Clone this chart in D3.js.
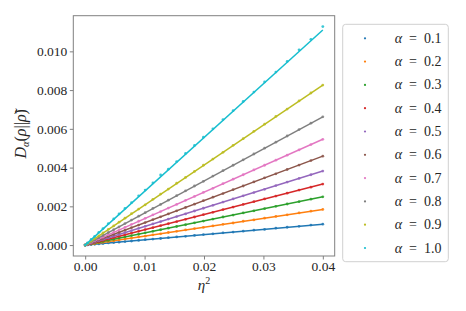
<!DOCTYPE html>
<html>
<head>
<meta charset="utf-8">
<script src="https://cdn.jsdelivr.net/npm/d3@7"></script>
<style>
  body { margin: 0; background: #fff; }
</style>
</head>
<body>
<svg id="chart" width="466" height="311"></svg>
<script>
// eta^2 sample positions
const eta2 = [0.0000, 0.0004, 0.0010, 0.0016, 0.0023, 0.0030, 0.0039, 0.0048, 0.0057, 0.0067,
              0.0078, 0.0090, 0.0101, 0.0114, 0.0127, 0.0140, 0.0154, 0.0169, 0.0184, 0.0199,
              0.0215, 0.0232, 0.0249, 0.0266, 0.0284, 0.0302, 0.0321, 0.0340, 0.0360, 0.0380, 0.0400];

const alphas = ["0.1", "0.2", "0.3", "0.4", "0.5", "0.6", "0.7", "0.8", "0.9", "1.0"];

// measured divergence, one array per alpha
const d01 = [0, 0.00001, 0.00003, 0.00004, 0.00006, 0.00008, 0.00011, 0.00013, 0.00015, 0.00018, 0.00021, 0.00024, 0.00028, 0.00031, 0.00034, 0.00038, 0.00042, 0.00045, 0.0005, 0.00054, 0.00058, 0.00063, 0.00067, 0.00072, 0.00077, 0.00081, 0.00087, 0.00092, 0.00097, 0.00103, 0.00108];
const d02 = [0, 0.00002, 0.00005, 0.00007, 0.00011, 0.00014, 0.00018, 0.00022, 0.00026, 0.00031, 0.00036, 0.00042, 0.00046, 0.00053, 0.00058, 0.00065, 0.00071, 0.00078, 0.00085, 0.00091, 0.00099, 0.00107, 0.00114, 0.00123, 0.0013, 0.00139, 0.00148, 0.00156, 0.00166, 0.00175, 0.00184];
const d03 = [0, 0.00002, 0.00006, 0.0001, 0.00014, 0.00019, 0.00024, 0.0003, 0.00036, 0.00042, 0.00049, 0.00056, 0.00063, 0.00071, 0.00079, 0.00087, 0.00096, 0.00105, 0.00115, 0.00124, 0.00134, 0.00145, 0.00155, 0.00166, 0.00177, 0.00188, 0.002, 0.00212, 0.00224, 0.00237, 0.00249];
const d04 = [0, 0.00003, 0.00008, 0.00013, 0.00018, 0.00024, 0.00031, 0.00038, 0.00045, 0.00053, 0.00062, 0.00071, 0.0008, 0.0009, 0.001, 0.0011, 0.00121, 0.00133, 0.00145, 0.00157, 0.00169, 0.00183, 0.00196, 0.0021, 0.00224, 0.00238, 0.00253, 0.00268, 0.00284, 0.00299, 0.00315];
const d05 = [0, 0.00004, 0.0001, 0.00015, 0.00022, 0.00029, 0.00037, 0.00046, 0.00054, 0.00064, 0.00074, 0.00086, 0.00097, 0.00109, 0.00121, 0.00134, 0.00147, 0.00161, 0.00176, 0.0019, 0.00205, 0.00222, 0.00238, 0.00254, 0.00271, 0.00288, 0.00307, 0.00325, 0.00344, 0.00363, 0.00382];
const d06 = [0, 0.00005, 0.00011, 0.00018, 0.00026, 0.00035, 0.00045, 0.00055, 0.00065, 0.00077, 0.0009, 0.00103, 0.00116, 0.00131, 0.00146, 0.00161, 0.00177, 0.00194, 0.00211, 0.00229, 0.00247, 0.00266, 0.00286, 0.00305, 0.00326, 0.00347, 0.00368, 0.0039, 0.00413, 0.00436, 0.00459];
const d07 = [0, 0.00005, 0.00014, 0.00022, 0.00031, 0.00041, 0.00053, 0.00066, 0.00078, 0.00091, 0.00107, 0.00123, 0.00138, 0.00156, 0.00173, 0.00191, 0.0021, 0.00231, 0.00251, 0.00272, 0.00293, 0.00317, 0.0034, 0.00363, 0.00388, 0.00412, 0.00438, 0.00464, 0.00491, 0.00519, 0.00546];
const d08 = [0, 0.00007, 0.00017, 0.00026, 0.00038, 0.0005, 0.00065, 0.00079, 0.00094, 0.00111, 0.00129, 0.00149, 0.00167, 0.00189, 0.0021, 0.00232, 0.00255, 0.0028, 0.00305, 0.00329, 0.00356, 0.00384, 0.00412, 0.0044, 0.0047, 0.005, 0.00531, 0.00563, 0.00596, 0.00629, 0.00662];
const d09 = [0, 0.00008, 0.00021, 0.00034, 0.00047, 0.00063, 0.00081, 0.00099, 0.00118, 0.00139, 0.00162, 0.00186, 0.00208, 0.00236, 0.00263, 0.00289, 0.00319, 0.00349, 0.0038, 0.00412, 0.00444, 0.00479, 0.00515, 0.00549, 0.00587, 0.00624, 0.00664, 0.00702, 0.00744, 0.00785, 0.00826];
const d10 = [0, 0.00011, 0.00029, 0.00045, 0.00066, 0.00085, 0.00111, 0.00135, 0.00161, 0.00189, 0.00219, 0.00254, 0.00284, 0.00321, 0.00362, 0.00392, 0.00431, 0.00473, 0.00514, 0.00557, 0.006, 0.00648, 0.00694, 0.00741, 0.0079, 0.00842, 0.00893, 0.00948, 0.01008, 0.01062, 0.01128];

// fitted straight lines: from eta^2 = 0 to eta^2 = 0.04
const fitX = [0, 0.04];
const fitEnd = [0.00108, 0.00184, 0.00249, 0.00315, 0.00382, 0.00459, 0.00546, 0.00662, 0.00826, 0.0111];

const xTicks = [0.00, 0.01, 0.02, 0.03, 0.04];
const yTicks = [0.000, 0.002, 0.004, 0.006, 0.008, 0.010];

const measured = [d01, d02, d03, d04, d05, d06, d07, d08, d09, d10];
const colors = d3.schemeCategory10;
const FONT = '"Liberation Serif", "Times New Roman", serif';

const margin = {top: 15.7, left: 73.3, right: 334.7, bottom: 256};
const svg = d3.select("#chart");

const x = d3.scaleLinear().domain([-0.002, 0.042]).range([margin.left, margin.right]);
const y = d3.scaleLinear().domain([-0.000564, 0.01184]).range([margin.bottom, margin.top]);

const plot = svg.append("g");

measured.forEach((vals, i) => {
    const pts = eta2.map((e, j) => [e, vals[j]]);
    plot.append("g")
        .selectAll("circle")
        .data(pts)
        .join("circle")
        .attr("cx", d => x(d[0]))
        .attr("cy", d => y(d[1]))
        .attr("r", 1.4)
        .attr("fill", colors[i])
        .attr("fill-opacity", 0.85);

    const fit = fitX.map(e => [e, fitEnd[i] * e / fitX[1]]);
    plot.append("path")
        .datum(fit)
        .attr("d", d3.line().x(d => x(d[0])).y(d => y(d[1])))
        .attr("fill", "none")
        .attr("stroke", colors[i])
        .attr("stroke-width", 1.5);
});

// frame
svg.append("rect")
    .attr("x", margin.left)
    .attr("y", margin.top)
    .attr("width", margin.right - margin.left)
    .attr("height", margin.bottom - margin.top)
    .attr("fill", "none")
    .attr("stroke", "#808080")
    .attr("stroke-width", 1);

const xAxis = svg.append("g")
    .attr("transform", `translate(0, ${margin.bottom})`)
    .call(d3.axisBottom(x).tickValues(xTicks).tickFormat(d3.format(".2f")).tickSize(3.5).tickPadding(1.5));
const yAxis = svg.append("g")
    .attr("transform", `translate(${margin.left}, 0)`)
    .call(d3.axisLeft(y).tickValues(yTicks).tickFormat(d3.format(".3f")).tickSize(3.5).tickPadding(2.5));

[xAxis, yAxis].forEach(ax => {
    ax.attr("font-family", FONT).attr("font-size", 13.5);
    ax.select(".domain").remove();
    ax.selectAll(".tick line").attr("stroke", "#808080");
    ax.selectAll(".tick text")
        .attr("fill", "#262626")
        .style("font-size", "13.5px")
        .style("font-family", FONT);
});

// axis labels
const xl = svg.append("text")
    .attr("x", (margin.left + margin.right) / 2)
    .attr("y", 290)
    .attr("text-anchor", "middle")
    .attr("fill", "#262626")
    .style("font-family", FONT)
    .style("font-size", "15px");
xl.append("tspan").style("font-style", "italic").text("η");
xl.append("tspan").attr("dy", -6).style("font-size", "10px").text("2");

const yl = svg.append("text")
    .attr("transform", `translate(26, ${(margin.top + margin.bottom) / 2 - 2}) rotate(-90)`)
    .attr("text-anchor", "middle")
    .attr("fill", "#262626")
    .style("font-family", FONT)
    .style("font-size", "16px");
yl.append("tspan").style("font-style", "italic").text("D");
yl.append("tspan").attr("dy", 3).style("font-size", "10.5px").style("font-style", "italic").text("α");
yl.append("tspan").attr("dy", -3).text("(");
yl.append("tspan").style("font-style", "italic").text("ρ");
yl.append("tspan").text("||");
yl.append("tspan").style("font-style", "italic").text("ρ\u0303");
yl.append("tspan").text(")");

// legend
const legend = svg.append("g");
legend.append("rect")
    .attr("x", 342.7)
    .attr("y", 24.3)
    .attr("width", 105.6)
    .attr("height", 237.4)
    .attr("rx", 3)
    .attr("fill", "#fff")
    .attr("stroke", "#d0d0d0")
    .attr("stroke-width", 1);

const items = legend.selectAll("g.item")
    .data(alphas)
    .join("g")
    .attr("class", "item")
    .attr("transform", (d, i) => `translate(0, ${38.3 + i * 23.3})`);

items.append("circle")
    .attr("cx", 365)
    .attr("cy", 0)
    .attr("r", 1.1)
    .attr("fill", (d, i) => colors[i]);

const lt = items.append("text")
    .attr("x", 441.5)
    .attr("y", 4.5)
    .attr("text-anchor", "end")
    .attr("fill", "#262626")
    .style("font-family", FONT)
    .style("font-size", "14px");
lt.append("tspan").style("font-style", "italic").text("α");
lt.append("tspan").text(d => "\u2002=\u2002" + d);
</script>
</body>
</html>
